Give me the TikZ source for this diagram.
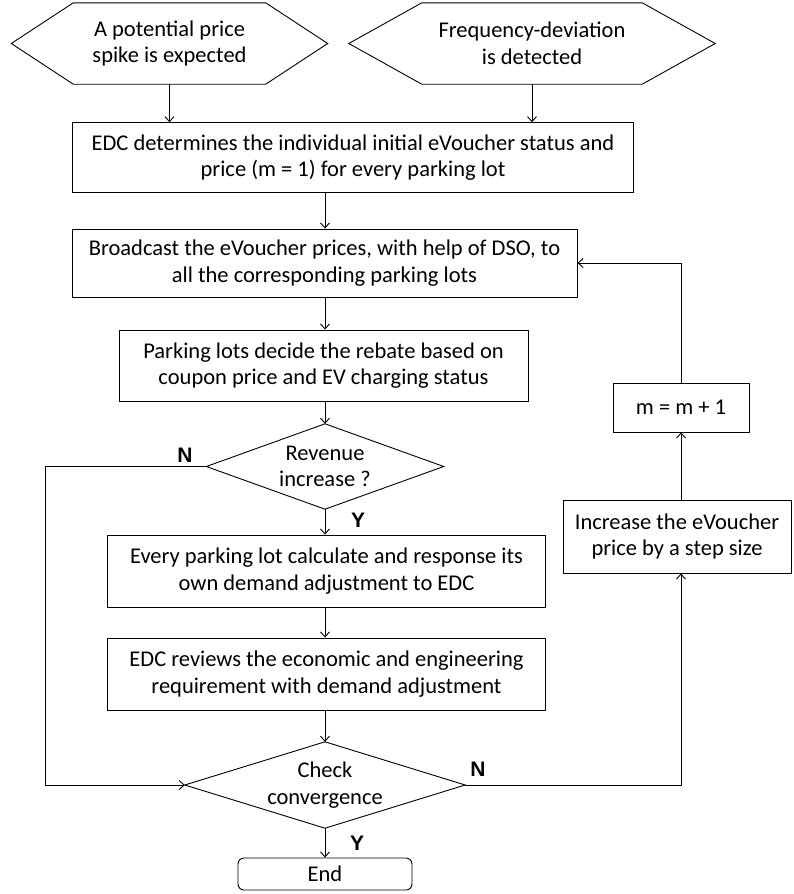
\documentclass[tikz,border=0pt]{standalone}
\usepackage{fontspec}
\setmainfont{Carlito}
\newfontfamily\labfont{Liberation Sans}
\usetikzlibrary{arrows.meta,calc}

\tikzset{
  arr/.style={draw=black, line width=0.9pt, -{Straight Barb[length=5pt,width=9pt,line width=0.9pt]}},
  outline/.style={draw=black, line width=0.9pt},
  textfont/.style={font=\fontsize{22.5}{26.7}\selectfont},
  procbox/.style={outline, rectangle, inner sep=0pt, align=center, textfont},
  shapetext/.style={draw=none, rectangle, inner sep=0pt, align=center, textfont},
  yn/.style={font=\labfont\bfseries\fontsize{21}{23}\selectfont, inner sep=0pt},
}

\begin{document}
\begin{tikzpicture}[x=1pt, y=-1pt]
\useasboundingbox (0,0) rectangle (793,894);

% starting events (hexagons)
\node[shapetext, minimum width=192pt, minimum height=81pt] (h1) at (169.5,43.5)
  {A potential price\\spike is expected};
\draw[outline] (h1.north west) -- (h1.north east) -- ($(h1.east)+(62,0)$)
  -- (h1.south east) -- (h1.south west) -- ($(h1.west)+(-62,0)$) -- cycle;
\node[shapetext, minimum width=220pt, minimum height=81pt] (h2) at (532,43.5)
  {Frequency-deviation\\is detected};
\draw[outline] (h2.north west) -- (h2.north east) -- ($(h2.east)+(73,0)$)
  -- (h2.south east) -- (h2.south west) -- ($(h2.west)+(-73,0)$) -- cycle;

% main sequence
\node[procbox, minimum width=561pt, minimum height=70pt] (b1) at (353,157.7)
  {EDC determines the individual initial eVoucher status and\\price (m = 1) for every parking lot};
\node[procbox, minimum width=505pt, minimum height=68pt] (b2) at (324.5,263)
  {Broadcast the eVoucher prices, with help of DSO, to\\all the corresponding parking lots};
\node[procbox, minimum width=409pt, minimum height=71pt] (b3) at (323.5,365.5)
  {Parking lots decide the rebate based on\\coupon price and EV charging status};
\node[shapetext, minimum width=237pt, minimum height=85pt] (rev) at (325,466.5)
  {Revenue\\increase ?};
\draw[outline] (rev.north) -- (rev.east) -- (rev.south) -- (rev.west) -- cycle;
\node[procbox, minimum width=438pt, minimum height=72pt] (b4) at (326.5,571)
  {Every parking lot calculate and response its\\own demand adjustment to EDC};
\node[procbox, minimum width=438pt, minimum height=72pt] (b5) at (326.5,674)
  {EDC reviews the economic and engineering\\requirement with demand adjustment};
\node[shapetext, minimum width=280pt, minimum height=86pt] (chk) at (325,785)
  {Check\\convergence};
\draw[outline] (chk.north) -- (chk.east) -- (chk.south) -- (chk.west) -- cycle;
\node[procbox, rounded corners=6pt, minimum width=174pt, minimum height=32pt] (end) at (325,874)
  {End};

% price update loop
\node[procbox, minimum width=228pt, minimum height=73pt] (inc) at (677,536.5)
  {Increase the eVoucher\\price by a step size};
\node[procbox, minimum width=136pt, minimum height=49pt] (m) at (681,407.5)
  {m = m + 1};

% connectors
\draw[arr] (h1.south) -- (h1.south |- b1.north);
\draw[arr] (h2.south) -- (h2.south |- b1.north);
\draw[arr] (b1.south -| rev.north) -- (rev.north |- b2.north);
\draw[arr] (b2.south -| rev.north) -- (rev.north |- b3.north);
\draw[arr] (b3.south -| rev.north) -- (rev.north);
\draw[arr] (rev.south) -- (rev.south |- b4.north);
\draw[arr] (b4.south -| rev.north) -- (rev.north |- b5.north);
\draw[arr] (b5.south -| chk.north) -- (chk.north);
\draw[arr] (chk.south) -- (end.north);

\coordinate (lx) at (45,466.5);
\draw[arr] (rev.west) -- (lx) |- (chk.west);

\draw[arr] (chk.east) -- (chk.east -| m.south) -- (m.south |- inc.south);
\draw[arr] (inc.north -| m.south) -- (m.south);
\draw[arr] (m.north) |- (b2.east);

% branch labels
\node[yn] (n1) at (185,455) {N};
\node[yn] (y1) at (358,520) {Y};
\node[yn] (n2) at (478,769) {N};
\node[yn] (y2) at (357,843) {Y};
\end{tikzpicture}
\end{document}
